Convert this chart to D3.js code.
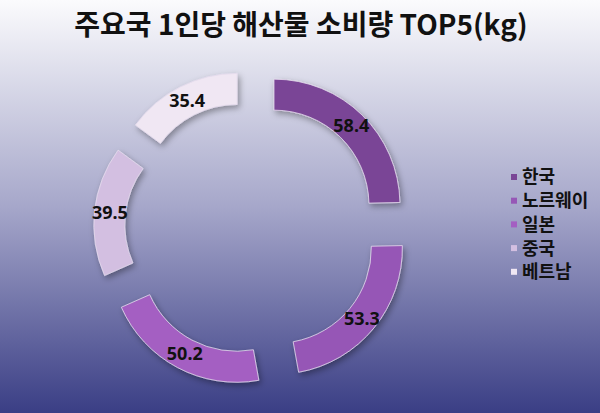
<!DOCTYPE html>
<html><head><meta charset="utf-8">
<script src="https://cdn.jsdelivr.net/npm/d3@7"></script>
<style>html,body{margin:0;padding:0;overflow:hidden}svg{display:block}</style>
</head><body>
<svg id="c" width="600" height="413"></svg>
<script>
const categories = ["한국", "노르웨이", "일본", "중국", "베트남"];
const values = [58.4, 53.3, 50.2, 39.5, 35.4];
const colors = ["#7a4596", "#9657b6", "#a45fc2", "#d3bfe1", "#f0e7f3"];
const title = "주요국 1인당 해산물 소비량 TOP5(kg)";

const W = 600, H = 413;
const svg = d3.select("#c");
const defs = svg.append("defs");
const grad = defs.append("linearGradient").attr("id", "bg").attr("x1", 0).attr("y1", 0).attr("x2", 0).attr("y2", 1);
grad.append("stop").attr("offset", 0).attr("stop-color", "#fbfbfd");
grad.append("stop").attr("offset", 0.5).attr("stop-color", "#a6a7ca");
grad.append("stop").attr("offset", 1).attr("stop-color", "#3a3e85");
const f = defs.append("filter").attr("id", "sh").attr("x", "-20%").attr("y", "-20%").attr("width", "140%").attr("height", "140%");
f.append("feDropShadow").attr("dx", 2).attr("dy", 3).attr("stdDeviation", 3).attr("flood-color", "#000").attr("flood-opacity", 0.35);

svg.append("rect").attr("width", W).attr("height", H).attr("fill", "url(#bg)");

svg.append("text").attr("x", 301).attr("y", 35).attr("text-anchor", "middle")
  .attr("font-family", "'Noto Sans CJK KR', 'Noto Sans', sans-serif").attr("font-weight", "bold")
  .attr("font-size", 28).attr("fill", "#111").text(title);

const cx = 251.6, cy = 228, R = 126, r = 95, explode = 32;
const pie = d3.pie().sort(null).value(d => d)(values);
const arc = d3.arc().innerRadius(r).outerRadius(R);
const color = d3.scaleOrdinal().domain(categories).range(colors);

const g = svg.append("g").attr("transform", `translate(${cx},${cy})`);
const seg = g.selectAll("g.seg").data(pie).enter().append("g")
  .attr("transform", d => {
    const m = (d.startAngle + d.endAngle) / 2;
    return `translate(${explode * Math.sin(m)},${-explode * Math.cos(m)})`;
  });
seg.append("path").attr("d", arc).attr("fill", (d, i) => color(categories[i]))
  .attr("stroke", "#e6dced").attr("stroke-width", 0.8).attr("filter", "url(#sh)");
seg.append("text").attr("transform", d => `translate(${arc.centroid(d)})`)
  .attr("text-anchor", "middle").attr("dy", "0.35em")
  .attr("font-family", "'Noto Sans', sans-serif").attr("font-weight", "bold")
  .attr("font-size", 18).attr("fill", "#111").text(d => d.value);

const leg = svg.append("g").attr("transform", "translate(511,177)");
const li = leg.selectAll("g").data(categories).enter().append("g")
  .attr("transform", (d, i) => `translate(0,${i * 23.7})`);
li.append("rect").attr("x", 0).attr("y", -3).attr("width", 6).attr("height", 6).attr("fill", d => color(d));
li.append("text").attr("x", 11).attr("y", 0).attr("dy", "0.36em")
  .attr("font-family", "'Noto Sans CJK KR', sans-serif").attr("font-weight", "bold")
  .attr("font-size", 18).attr("fill", "#111").text(d => d);
</script>
</body></html>
